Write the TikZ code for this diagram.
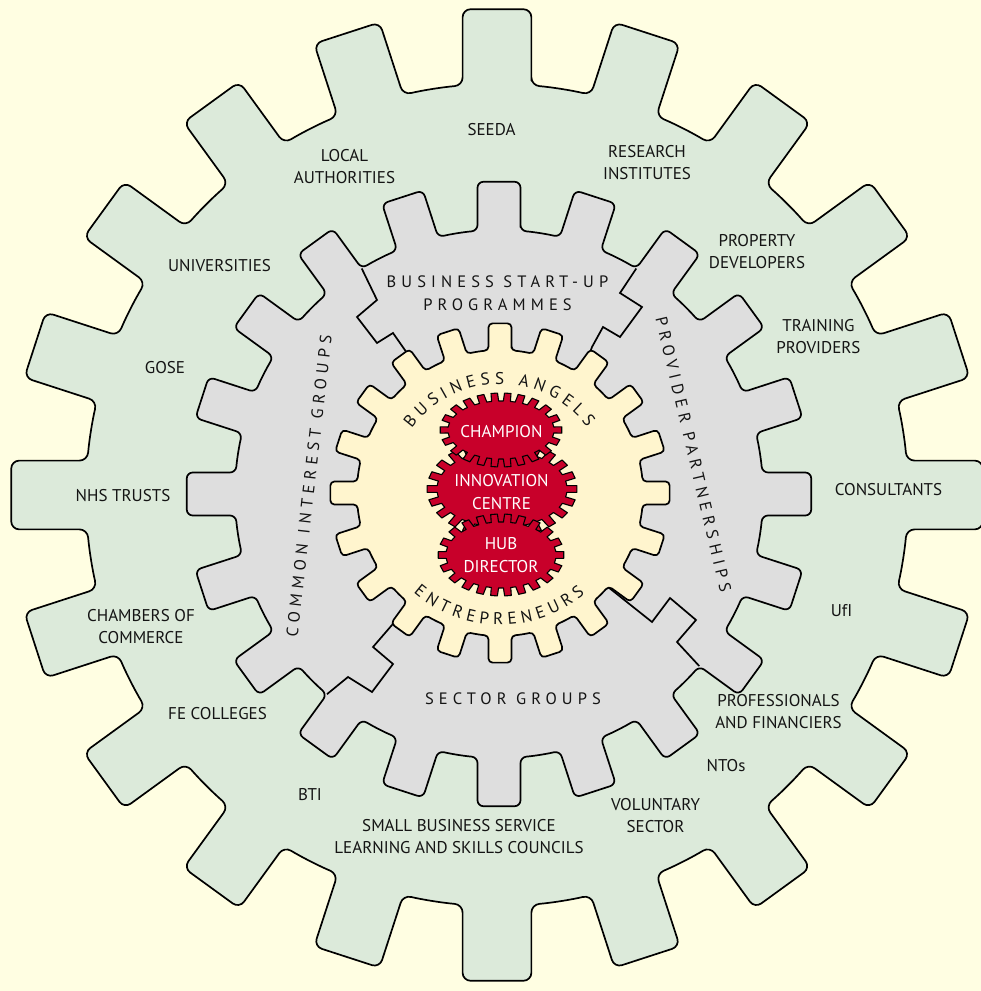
\documentclass[tikz,border=0pt]{standalone}
\usepackage{fontspec}
\setmainfont{PT Sans}
\usetikzlibrary{decorations.text}

\definecolor{paper}{RGB}{255,254,226}
\definecolor{sage}{RGB}{220,234,218}
\definecolor{steel}{RGB}{222,222,222}
\definecolor{cream}{RGB}{255,245,206}
\definecolor{crimson}{RGB}{200,0,42}

\begin{document}
\begin{tikzpicture}[x=1pt, y=1pt,
    gear/.style={draw=black, line width=1.7pt, line join=round},
    seam/.style={draw=black, line width=1.7pt},
    cog/.style={draw=black, line width=1.1pt, fill=crimson, line join=round},
    partner/.style={align=center, font=\fontsize{17}{22}\selectfont, text=black!92},
    ring/.style={align=center, font=\fontsize{16.5}{23}\selectfont\addfontfeature{LetterSpace=31}, text=black!92},
    core/.style={align=center, font=\fontsize{17}{23}\selectfont, text=white},
    declare function={sk(\p)=\p+6.5*sin(2*\p);}
]
    % paper
    \fill[paper] (0,0) rectangle (981,991);
    \useasboundingbox (0,0) rectangle (981,991);

    % outer gear
    \begin{scope}[shift={(497,496)}]
        \draw[gear, fill=sage, rounded corners=8pt] (85.2:411)
            \foreach \k in {0,...,19}{
                -- ({85.95+18*\k}:487) -- ({94.05+18*\k}:487) -- ({94.8+18*\k}:411)
                arc[start angle={94.8+18*\k}, delta angle=8.4, radius=411]} -- cycle;
    \end{scope}

    % middle gear and the seams between its four groups
    \begin{scope}[shift={(499,497)}]
        \draw[gear, fill=steel, rounded corners=6pt] (85.33:264)
            \foreach \k in {0,...,19}{
                -- ({86.06+18*\k}:313) -- ({93.94+18*\k}:313) -- ({94.67+18*\k}:264)
                arc[start angle={94.67+18*\k}, delta angle=8.66, radius=264]} -- cycle;
        \draw[seam] (121.33:264) -- (-122,194) -- (-142,177) -- (-122,151) -- (-106,161) -- (-92,141) -- (-69,104);
        \draw[seam] (58.67:264) -- (121,201) -- (143,187) -- (121,157) -- (104,167) -- (93,147) -- (81,114);
        \draw[seam] (-40.67:264) -- (178,-148) -- (197,-126) -- (171,-104) -- (153,-128) -- (109,-93) -- (86,-81);
        \draw[seam] (229.33:264) -- (-151,-183) -- (-127,-198) -- (-106,-170) -- (-126,-153) -- (-107,-131) -- (-79,-96);
    \end{scope}

    % inner gear
    \begin{scope}[shift={(500,498)}]
        \draw[gear, fill=cream, rounded corners=4pt] (85.39:143)
            \foreach \k in {0,...,19}{
                -- ({86.12+18*\k}:170) -- ({93.88+18*\k}:170) -- ({94.61+18*\k}:143)
                arc[start angle={94.61+18*\k}, delta angle=8.78, radius=143]} -- cycle;
    \end{scope}

    % red cogs
    \begin{scope}[shift={(502,502)}]
        \draw[cog] ({65*cos(sk(-4.15))},{38.5*sin(sk(-4.15))})
            \foreach \k [evaluate=\k as \f using {\k*360/26}] in {0,...,25}{
                -- ({75*cos(sk(\f-3.3))},{48.5*sin(sk(\f-3.3))})
                -- ({75*cos(sk(\f+3.3))},{48.5*sin(sk(\f+3.3))})
                -- ({65*cos(sk(\f+4.15))},{38.5*sin(sk(\f+4.15))})
                -- ({65*cos(sk(\f+6.92))},{38.5*sin(sk(\f+6.92))})
                -- ({65*cos(sk(\f+9.7))},{38.5*sin(sk(\f+9.7))})} -- cycle;
    \end{scope}
    \begin{scope}[shift={(501,561)}]
        \draw[cog] ({53*cos(sk(-4.9))},{29*sin(sk(-4.9))})
            \foreach \k [evaluate=\k as \f using {\k*360/22}] in {0,...,21}{
                -- ({61*cos(sk(\f-3.9))},{37*sin(sk(\f-3.9))})
                -- ({61*cos(sk(\f+3.9))},{37*sin(sk(\f+3.9))})
                -- ({53*cos(sk(\f+4.9))},{29*sin(sk(\f+4.9))})
                -- ({53*cos(sk(\f+8.18))},{29*sin(sk(\f+8.18))})
                -- ({53*cos(sk(\f+11.46))},{29*sin(sk(\f+11.46))})} -- cycle;
    \end{scope}
    \begin{scope}[shift={(501,436)}]
        \draw[cog] ({55*cos(sk(-4.9))},{33*sin(sk(-4.9))})
            \foreach \k [evaluate=\k as \f using {\k*360/22}] in {0,...,21}{
                -- ({63*cos(sk(\f-3.9))},{41*sin(sk(\f-3.9))})
                -- ({63*cos(sk(\f+3.9))},{41*sin(sk(\f+3.9))})
                -- ({55*cos(sk(\f+4.9))},{33*sin(sk(\f+4.9))})
                -- ({55*cos(sk(\f+8.18))},{33*sin(sk(\f+8.18))})
                -- ({55*cos(sk(\f+11.46))},{33*sin(sk(\f+11.46))})} -- cycle;
    \end{scope}

    % core labels
    \node[core] (champion) at (501.5,559.5) {CHAMPION};
    \node[core] (innovation) at (501.5,498.5) {INNOVATION\\CENTRE};
    \node[core] (hubdirector) at (501,435.5) {HUB\\DIRECTOR};

    % curved labels on the inner gear
    \path[decorate, decoration={text along path, text align={fit to path},
        text={|\fontsize{17}{19}\selectfont\color{black!92}|BUSINESS ANGELS}}]
        (500,498) ++(144:109) arc[start angle=144, end angle=37, radius=109];
    \path[decorate, decoration={text along path, text align={fit to path},
        text={|\fontsize{17}{19}\selectfont\color{black!92}|ENTREPRENEURS}}]
        (500,498) ++(229:132) arc[start angle=229, end angle=310, radius=132];

    % group labels on the middle gear
    \node[ring] (startup) at (497.5,698) {BUSINESS START-UP\\PROGRAMMES};
    \node[ring] (sector) at (513,292) {SECTOR GROUPS};
    \node[ring, rotate=83.5] (common) at (309,505) {COMMON INTEREST GROUPS};
    \node[ring, rotate=-76.7] (provider) at (693.5,536.5) {PROVIDER PARTNERSHIPS};

    % partners on the outer gear
    \node[partner] (seeda) at (491.5,861.5) {SEEDA};
    \node[partner] (local) at (344.5,824) {LOCAL\\AUTHORITIES};
    \node[partner] (research) at (647,828) {RESEARCH\\INSTITUTES};
    \node[partner] (universities) at (219.5,725.5) {UNIVERSITIES};
    \node[partner] (property) at (757,739) {PROPERTY\\DEVELOPERS};
    \node[partner] (training) at (818.5,654) {TRAINING\\PROVIDERS};
    \node[partner] (gose) at (165,623) {GOSE};
    \node[partner] (nhs) at (123,495.5) {NHS TRUSTS};
    \node[partner] (consultants) at (888.5,501.5) {CONSULTANTS};
    \node[partner] (chambers) at (141,364) {CHAMBERS OF\\COMMERCE};
    \node[partner] (ufi) at (841.5,380) {UfI};
    \node[partner] (fe) at (217.5,277) {FE COLLEGES};
    \node[partner] (professionals) at (778.5,279.5) {PROFESSIONALS\\AND FINANCIERS};
    \node[partner] (ntos) at (726,225) {NTOs};
    \node[partner] (bti) at (310,196) {BTI};
    \node[partner] (voluntary) at (655.5,175) {VOLUNTARY\\SECTOR};
    \node[partner] (sbs) at (459,154.5) {SMALL BUSINESS SERVICE\\LEARNING AND SKILLS COUNCILS};
\end{tikzpicture}
\end{document}
